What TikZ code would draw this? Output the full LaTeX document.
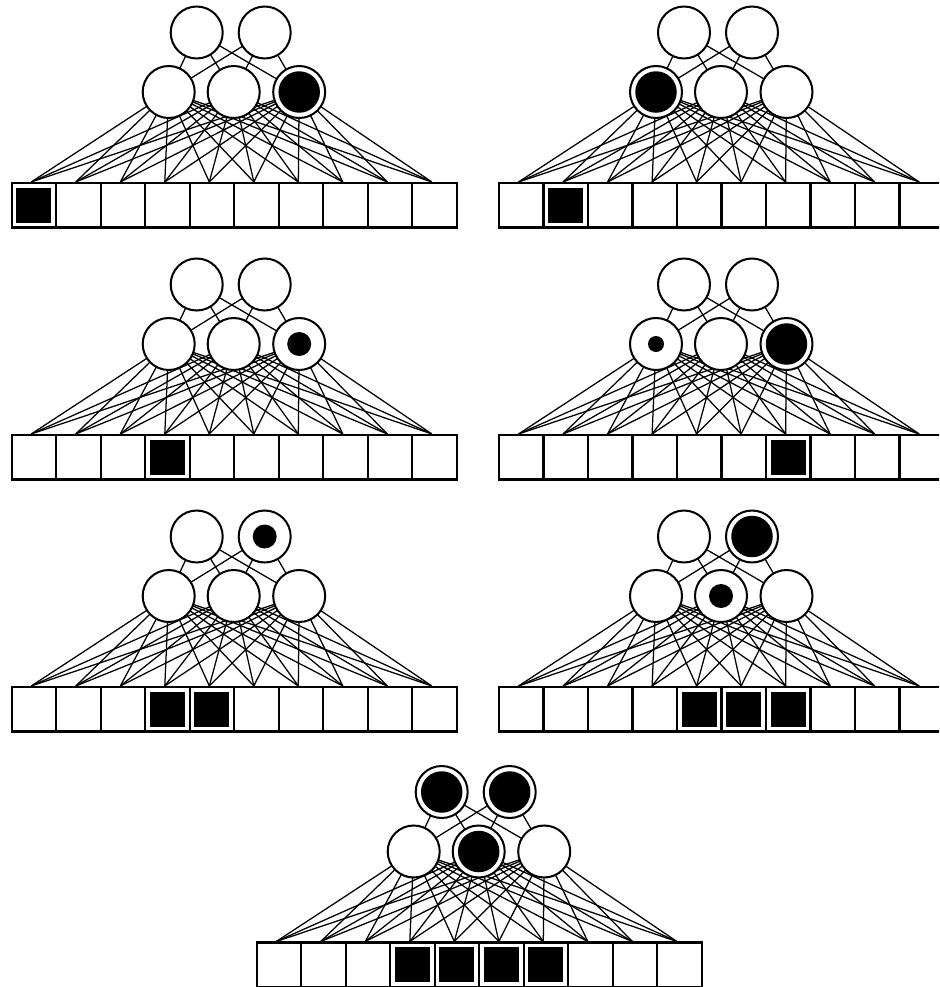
\documentclass[tikz,border=0pt]{standalone}
\usetikzlibrary{calc}

\pgfdeclarelayer{background}
\pgfsetlayers{background,main}

% one network: input strip, hidden row, top row
% #1 = name, #2 = left of strip, #3 = top of strip
\newcommand{\netpanel}[3]{%
  \begin{scope}[shift={(#2,#3)}]
    % input strip
    \foreach \i in {1,...,10}
      \node[cell] (#1x\i) at ({0.89*\i-0.445},-0.445) {};
    % hidden units
    \node[unit] (#1h1) at (3.14,1.82) {};
    \node[unit] (#1h2) at (4.44,1.82) {};
    \node[unit] (#1h3) at (5.75,1.82) {};
    % top units
    \node[unit] (#1z1) at (3.70,3.01) {};
    \node[unit] (#1z2) at (5.06,3.01) {};
    % wires behind the units
    \begin{pgfonlayer}{background}
      \foreach \j in {1,2,3}
        \foreach \i in {1,...,10}
          \draw[wire] (#1h\j.center) -- ([xshift=-1.5pt]#1x\i.north);
      \foreach \k in {1,2}
        \foreach \j in {1,2,3}
          \draw[wire] (#1z\k.center) -- (#1h\j.center);
    \end{pgfonlayer}
  \end{scope}}

\begin{document}
\begin{tikzpicture}

% Styles
\tikzset{
  unit/.style={
    circle,
    draw=black,
    fill=white,
    line width=1.15pt,
    minimum size=1.04cm,
    inner sep=0pt
  },
  cell/.style={
    rectangle,
    draw=black,
    fill=white,
    line width=1.2pt,
    minimum size=0.89cm,
    inner sep=0pt
  },
  wire/.style={
    draw=black,
    line width=0.72pt
  },
  unitfull/.style={circle, fill=black, minimum size=0.83cm, inner sep=0pt},
  unithalf/.style={circle, fill=black, minimum size=0.48cm, inner sep=0pt},
  unitlow/.style={circle, fill=black, minimum size=0.32cm, inner sep=0pt},
  cellon/.style={rectangle, fill=black, minimum size=0.70cm, inner sep=0pt}
}

\useasboundingbox (0,0) rectangle (18.78,-19.74);
\clip (0,0) rectangle (18.78,-19.74);

% Row 1
\netpanel{P1}{0.234}{-3.66}
\node[cellon] (P1on1) at (P1x1) {};
\node[unitfull] (P1h3on) at (P1h3) {};

\netpanel{P2}{9.98}{-3.66}
\node[cellon] (P2on2) at (P2x2) {};
\node[unitfull] (P2h1on) at (P2h1) {};

% Row 2
\netpanel{P3}{0.234}{-8.70}
\node[cellon] (P3on4) at (P3x4) {};
\node[unithalf] (P3h3on) at (P3h3) {};

\netpanel{P4}{9.98}{-8.70}
\node[cellon] (P4on7) at (P4x7) {};
\node[unitlow] (P4h1on) at (P4h1) {};
\node[unitfull] (P4h3on) at (P4h3) {};

% Row 3
\netpanel{P5}{0.234}{-13.74}
\foreach \i in {4,5}
  \node[cellon] (P5on\i) at (P5x\i) {};
\node[unithalf] (P5z2on) at (P5z2) {};

\netpanel{P6}{9.98}{-13.74}
\foreach \i in {5,6,7}
  \node[cellon] (P6on\i) at (P6x\i) {};
\node[unithalf] (P6h2on) at (P6h2) {};
\node[unitfull] (P6z2on) at (P6z2) {};

% Row 4
\netpanel{P7}{5.134}{-18.85}
\foreach \i in {4,...,7}
  \node[cellon] (P7on\i) at (P7x\i) {};
\node[unitfull] (P7h2on) at (P7h2) {};
\node[unitfull] (P7z1on) at (P7z1) {};
\node[unitfull] (P7z2on) at (P7z2) {};

\end{tikzpicture}
\end{document}
